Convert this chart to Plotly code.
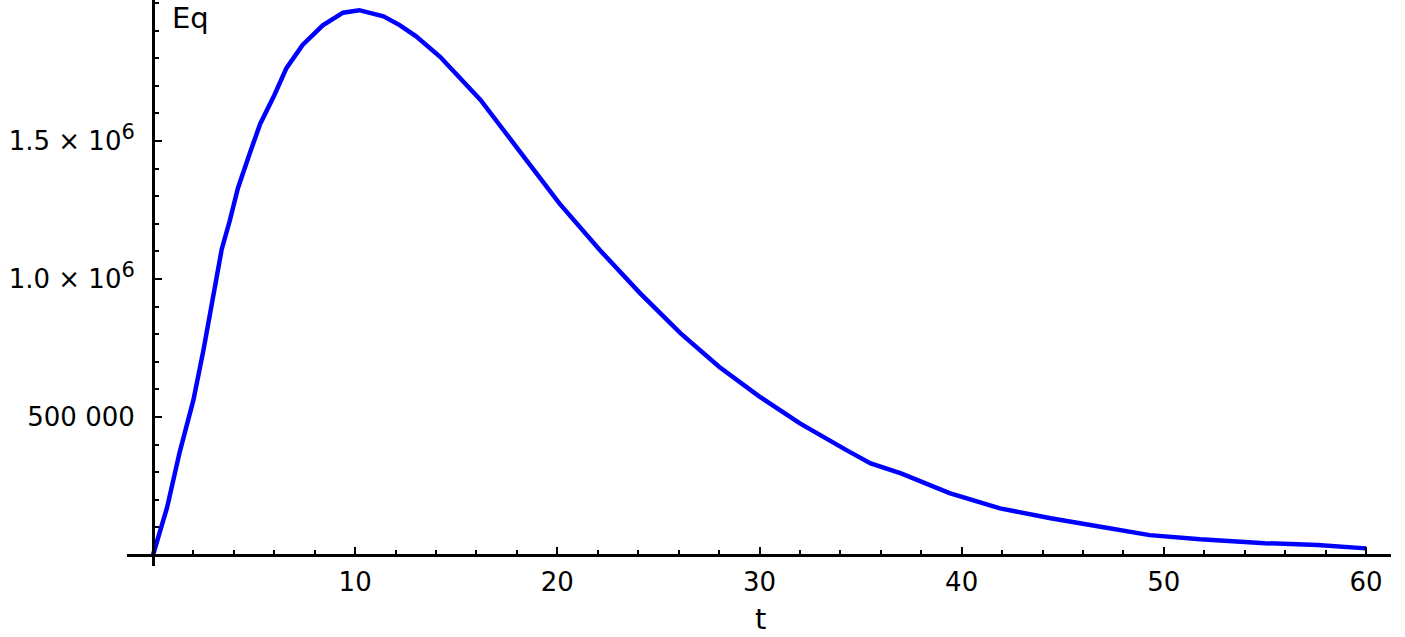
import plotly.graph_objects as go

# values
t = [0, 0.7, 1.3, 2.0, 2.5, 2.9, 3.4, 3.8, 4.2, 4.8, 5.3, 6.0, 6.6, 7.4, 8.4,
     9.4, 10.2, 11.4, 12.2, 13.0, 14.2, 16.2, 18.2, 20.1, 22.1, 24.1, 26.1,
     28.0, 30.0, 32.0, 34.3, 35.5, 37.0, 39.4, 41.9, 44.4, 46.8, 49.3, 51.8,
     55.0, 57.6, 60.0]
eq = [0, 173e3, 367e3, 562e3, 744e3, 913e3, 1108e3, 1212e3, 1329e3, 1458e3,
      1562e3, 1666e3, 1764e3, 1848e3, 1919e3, 1965e3, 1974e3, 1952e3, 1920e3,
      1880e3, 1805e3, 1649e3, 1455e3, 1274e3, 1105e3, 948e3, 803e3, 682e3,
      574e3, 477e3, 380e3, 332e3, 296e3, 224e3, 169e3, 133e3, 103e3, 72e3,
      57e3, 43e3, 36e3, 24e3]

x_ticks = [10, 20, 30, 40, 50, 60]
y_ticks = [500000, 1000000, 1500000]
sup6 = "<sup><span style='font-size:21px'>6</span></sup>"
y_labels = ["500 000", "1.0 × 10" + sup6, "1.5 × 10" + sup6]

W, H = 1405, 637
ML, MR, MT, MB = 127, 14, 0, 71
pw, ph = W - ML - MR, H - MT - MB

fig = go.Figure()
fig.add_trace(go.Scatter(x=t, y=eq, mode="lines",
                         line=dict(color="#0000ff", width=4.5),
                         showlegend=False, hoverinfo="skip"))

tick_font = dict(family="DejaVu Sans", size=26, color="black")

fig.update_layout(
    width=W, height=H,
    margin=dict(l=ML, r=MR, t=MT, b=MB),
    paper_bgcolor="white", plot_bgcolor="white",
    xaxis=dict(range=[-1.286, 61.237], anchor="free",
               position=(ph - (555 - MT)) / ph,
               showgrid=False, zeroline=False,
               showline=True, linecolor="black", linewidth=3,
               tickvals=x_ticks, ticks="inside", ticklen=7, tickwidth=2,
               tickcolor="black", tickfont=tick_font, ticklabelstandoff=3,
               minor=dict(dtick=2, tick0=0, ticks="inside", ticklen=4,
                          tickwidth=2, tickcolor="black", showgrid=False)),
    yaxis=dict(range=[-11 * 3623.2, 555 * 3623.2], anchor="free",
               position=(153 - ML) / pw,
               showgrid=False, zeroline=False,
               showline=True, linecolor="black", linewidth=3,
               tickvals=y_ticks, ticktext=y_labels, ticks="inside",
               ticklen=7, tickwidth=2, tickcolor="black",
               tickfont=tick_font, ticklabelstandoff=12,
               minor=dict(dtick=100000, tick0=0, ticks="inside", ticklen=4,
                          tickwidth=2, tickcolor="black", showgrid=False)),
    annotations=[
        dict(text="Eq", xref="paper", yref="paper",
             x=(171 - ML) / pw, y=1.0, borderpad=0,
             xanchor="left", yanchor="top", showarrow=False,
             font=dict(family="DejaVu Sans", size=29, color="black")),
        dict(text="t", xref="paper", yref="paper",
             x=(760 - ML) / pw, y=(ph - 637) / ph, borderpad=0,
             xanchor="center", yanchor="bottom", showarrow=False,
             font=dict(family="DejaVu Sans", size=29, color="black")),
    ],
)

# the page has an 8px body margin by default; drop it so the figure sits at 0,0
fig.write_html("out.html", config={"displayModeBar": False},
               post_script="document.body.style.margin='0px';")
